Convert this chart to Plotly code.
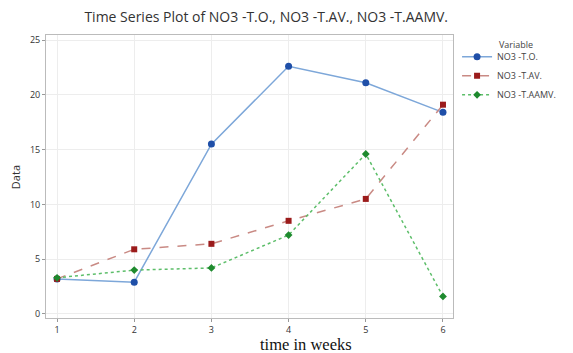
import plotly.graph_objects as go

weeks = [1, 2, 3, 4, 5, 6]
no3_to = [3.2, 2.9, 15.5, 22.6, 21.1, 18.4]
no3_tav = [3.2, 5.9, 6.4, 8.5, 10.5, 19.1]
no3_taamv = [3.3, 4.0, 4.2, 7.2, 14.6, 1.6]
series_names = ["NO3 -T.O.", "NO3 -T.AV.", "NO3 -T.AAMV."]

fig = go.Figure()
fig.add_trace(go.Scatter(x=weeks, y=no3_to, name=series_names[0], mode="lines+markers",
                         line=dict(color="#7DA7D9", width=1.5),
                         marker=dict(symbol="circle", size=7, color="#1F4FA8")))
fig.add_trace(go.Scatter(x=weeks, y=no3_tav, name=series_names[1], mode="lines+markers",
                         line=dict(color="#C98A84", width=1.5, dash="dash"),
                         marker=dict(symbol="square", size=6, color="#9B1B1B")))
fig.add_trace(go.Scatter(x=weeks, y=no3_taamv, name=series_names[2], mode="lines+markers",
                         line=dict(color="#5DBE6A", width=1.5, dash="dot"),
                         marker=dict(symbol="diamond", size=6, color="#1E8A2E")))

fig.update_layout(
    width=565, height=345,
    paper_bgcolor="white", plot_bgcolor="white",
    margin=dict(l=38, r=120, t=27, b=35, autoexpand=False),
    title=dict(text="Time Series Plot of NO3 -T.O., NO3 -T.AV., NO3 -T.AAMV.",
               x=0.457, xanchor="center", y=0.974, yanchor="middle",
               font=dict(family="Open Sans", size=14, color="#333333")),
    font=dict(family="Open Sans", color="#333333"),
    showlegend=True,
    legend=dict(x=1.01, xanchor="left", y=0.974, yanchor="top",
                font=dict(size=9, color="#444444"),
                tracegroupgap=0, itemwidth=30),
    annotations=[
        dict(text="Variable", xref="paper", yref="paper", x=1.108, y=0.968,
             xanchor="left", yanchor="middle", showarrow=False,
             font=dict(size=9, color="#444444")),
        dict(text="time in weeks", xref="paper", yref="paper", x=0.639, y=-0.094,
             xanchor="center", yanchor="middle", showarrow=False, borderpad=0,
             font=dict(family="Liberation Serif", size=16.5, color="#111111")),
        dict(text="Data", xref="paper", yref="paper", x=-0.076, y=0.498,
             xanchor="center", yanchor="middle", showarrow=False, textangle=-90,
             font=dict(size=11, color="#333333")),
    ],
)
fig.update_xaxes(range=[0.857, 6.13], tickvals=weeks, ticktext=[str(w) for w in weeks],
                 automargin=False,
                 showgrid=True, gridcolor="#EDEDED", gridwidth=1,
                 showline=True, linecolor="#BBBBBB", mirror=True,
                 ticks="outside", ticklen=3, tickcolor="#999999",
                 tickfont=dict(size=9, color="#333333"), zeroline=False)
fig.update_yaxes(range=[-0.37, 25.46], tickvals=[0, 5, 10, 15, 20, 25],
                 automargin=False,
                 showgrid=True, gridcolor="#EDEDED", gridwidth=1,
                 showline=True, linecolor="#BBBBBB", mirror=True,
                 ticks="outside", ticklen=3, tickcolor="#999999",
                 tickfont=dict(size=9, color="#333333"), zeroline=False)

fig.write_html("out.html")
